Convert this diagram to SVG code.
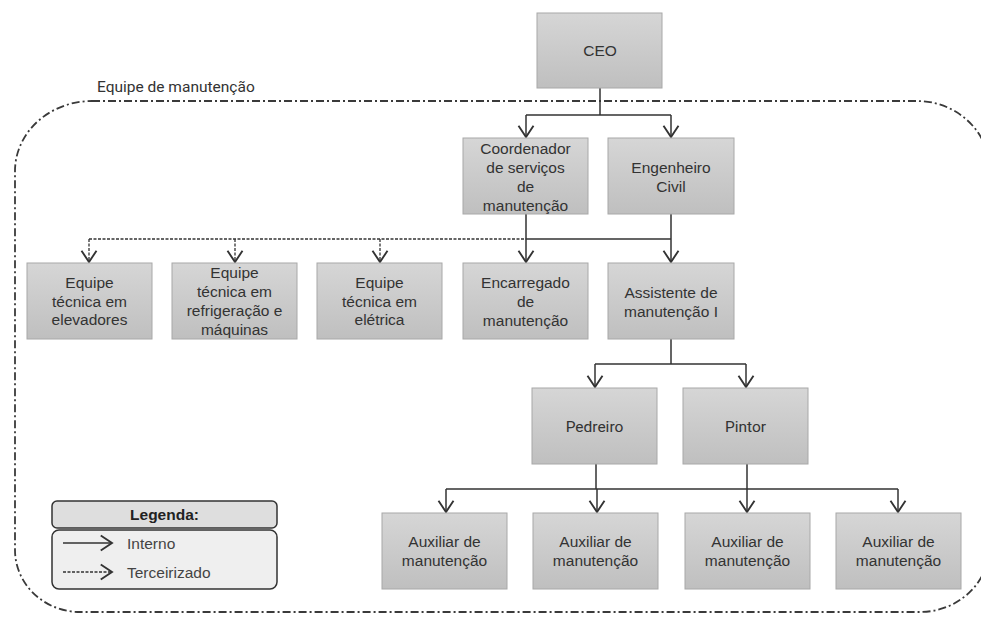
<svg xmlns="http://www.w3.org/2000/svg" width="981" height="620" viewBox="0 0 981 620">
  <defs>
    <linearGradient id="boxFill" x1="0" y1="0" x2="0" y2="1">
      <stop offset="0" stop-color="#d6d6d6"/>
      <stop offset="1" stop-color="#bfbfbf"/>
    </linearGradient>
    <marker id="arrow" markerUnits="userSpaceOnUse" markerWidth="20" markerHeight="20" viewBox="-12 -8 14 16" refX="0" refY="0" orient="auto" overflow="visible">
      <path d="M-9,-6 L0,0 L-9,6" fill="none" stroke="#333" stroke-width="1.5"/>
    </marker>
    <style>
      .box { fill: url(#boxFill); stroke: #a8a8a8; stroke-width: 1; }
      .lbl { font-family: "Liberation Sans", Arial, sans-serif; font-size: 15.5px; fill: #333; text-anchor: middle; }
      .rob { font-family: Roboto, "Liberation Sans", sans-serif; font-size: 15.5px; fill: #333; text-anchor: middle; }
      .solid { fill: none; stroke: #333; stroke-width: 1.5; }
      .dashed { fill: none; stroke: #333; stroke-width: 1.3; stroke-dasharray: 3 1.5; }
      .arr { marker-end: url(#arrow); }
      .boundary { fill: none; stroke: #3a3a3a; stroke-width: 1.8; stroke-dasharray: 8 3 2 3; }
      .legHead { fill: #dedede; stroke: #333; stroke-width: 1.5; }
      .legBody { fill: #efefef; stroke: #333; stroke-width: 1.5; }
      .legTitle { font-family: "Liberation Sans", Arial, sans-serif; font-size: 15.5px; font-weight: bold; fill: #222; text-anchor: middle; }
      .legText { font-family: "Liberation Sans", Arial, sans-serif; font-size: 15.5px; fill: #444; }
    </style>
  </defs>

  <rect width="981" height="620" fill="#ffffff"/>

  <!-- maintenance team boundary -->
  <g id="team-boundary">
    <path class="boundary" d="M92,101 L917,101 A73,70 0 0 1 990,171 L990,545 A70,67 0 0 1 920,612 L80,612 A65,62 0 0 1 15,550 L15,171 A77,70 0 0 1 92,101 Z"/>
    <text class="rob" x="97" y="92" style="text-anchor:start">Equipe de manutenção</text>
  </g>

  <!-- connectors -->
  <g id="connectors">
    <!-- CEO to coordinator / engineer -->
    <path class="solid" d="M600,88 V115 M526,115 H671"/>
    <path class="solid arr" d="M526,115 V137"/>
    <path class="solid arr" d="M671,115 V137"/>
    <!-- outsourced teams -->
    <path class="dashed" d="M89,239 H526"/>
    <path class="dashed arr" d="M89,239 V262"/>
    <path class="dashed arr" d="M235,239 V262"/>
    <path class="dashed arr" d="M380,239 V262"/>
    <!-- internal staff -->
    <path class="solid" d="M526,214 V239 M671,214 V239 M526,239 H671"/>
    <path class="solid arr" d="M526,239 V262"/>
    <path class="solid arr" d="M671,239 V262"/>
    <!-- assistant to mason / painter -->
    <path class="solid" d="M671,339 V364 M595,364 H746"/>
    <path class="solid arr" d="M595,364 V387"/>
    <path class="solid arr" d="M746,364 V387"/>
    <!-- mason / painter to helpers -->
    <path class="solid" d="M596,464 V489 M747,464 V489 M446,489 H898"/>
    <path class="solid arr" d="M446,489 V512"/>
    <path class="solid arr" d="M597,489 V512"/>
    <path class="solid arr" d="M747,489 V512"/>
    <path class="solid arr" d="M898,489 V512"/>
  </g>

  <g id="ceo">
    <rect class="box" x="537" y="13" width="125" height="75"/>
    <text class="lbl" x="600" y="56">CEO</text>
  </g>

  <g id="coordenador">
    <rect class="box" x="463" y="138" width="125" height="76"/>
    <text class="lbl" x="525.5" y="154">Coordenador</text>
    <text class="lbl" x="525.5" y="173">de serviços</text>
    <text class="lbl" x="525.5" y="192">de</text>
    <text class="lbl" x="525.5" y="211">manutenção</text>
  </g>

  <g id="engenheiro">
    <rect class="box" x="608" y="138" width="126" height="76"/>
    <text class="lbl" x="671" y="173">Engenheiro</text>
    <text class="lbl" x="671" y="192">Civil</text>
  </g>

  <g id="equipe-elevadores">
    <rect class="box" x="27" y="263" width="125" height="76"/>
    <text class="lbl" x="89.5" y="288">Equipe</text>
    <text class="lbl" x="89.5" y="307">técnica em</text>
    <text class="lbl" x="89.5" y="325">elevadores</text>
  </g>

  <g id="equipe-refrigeracao">
    <rect class="box" x="172" y="263" width="125" height="76"/>
    <text class="lbl" x="234.5" y="278">Equipe</text>
    <text class="lbl" x="234.5" y="297">técnica em</text>
    <text class="lbl" x="234.5" y="316">refrigeração e</text>
    <text class="lbl" x="234.5" y="335">máquinas</text>
  </g>

  <g id="equipe-eletrica">
    <rect class="box" x="317" y="263" width="125" height="76"/>
    <text class="lbl" x="379.5" y="288">Equipe</text>
    <text class="lbl" x="379.5" y="307">técnica em</text>
    <text class="lbl" x="379.5" y="325">elétrica</text>
  </g>

  <g id="encarregado">
    <rect class="box" x="463" y="263" width="125" height="76"/>
    <text class="lbl" x="525.5" y="288">Encarregado</text>
    <text class="lbl" x="525.5" y="307">de</text>
    <text class="lbl" x="525.5" y="326">manutenção</text>
  </g>

  <g id="assistente">
    <rect class="box" x="608" y="263" width="126" height="76"/>
    <text class="lbl" x="671" y="298">Assistente de</text>
    <text class="lbl" x="671" y="317">manutenção I</text>
  </g>

  <g id="pedreiro">
    <rect class="box" x="532" y="388" width="125" height="76"/>
    <text class="rob" x="594.5" y="432">Pedreiro</text>
  </g>

  <g id="pintor">
    <rect class="box" x="683" y="388" width="125" height="76"/>
    <text class="rob" x="745.5" y="432">Pintor</text>
  </g>

  <g id="auxiliar-1">
    <rect class="box" x="382" y="513" width="125" height="76"/>
    <text class="lbl" x="444.5" y="547">Auxiliar de</text>
    <text class="lbl" x="444.5" y="566">manutenção</text>
  </g>

  <g id="auxiliar-2">
    <rect class="box" x="533" y="513" width="125" height="76"/>
    <text class="lbl" x="595.5" y="547">Auxiliar de</text>
    <text class="lbl" x="595.5" y="566">manutenção</text>
  </g>

  <g id="auxiliar-3">
    <rect class="box" x="685" y="513" width="125" height="76"/>
    <text class="lbl" x="747.5" y="547">Auxiliar de</text>
    <text class="lbl" x="747.5" y="566">manutenção</text>
  </g>

  <g id="auxiliar-4">
    <rect class="box" x="836" y="513" width="125" height="76"/>
    <text class="lbl" x="898.5" y="547">Auxiliar de</text>
    <text class="lbl" x="898.5" y="566">manutenção</text>
  </g>

  <!-- legend -->
  <g id="legenda">
    <rect class="legHead" x="52" y="501" width="225" height="27" rx="5"/>
    <text class="legTitle" x="164.5" y="520">Legenda:</text>
    <rect class="legBody" x="52" y="530" width="225" height="59" rx="7"/>
    <path class="solid arr" d="M63,543 H112"/>
    <text class="legText" x="127" y="549">Interno</text>
    <path class="dashed arr" d="M63,572 H112"/>
    <text class="legText" x="127" y="578">Terceirizado</text>
  </g>
</svg>
